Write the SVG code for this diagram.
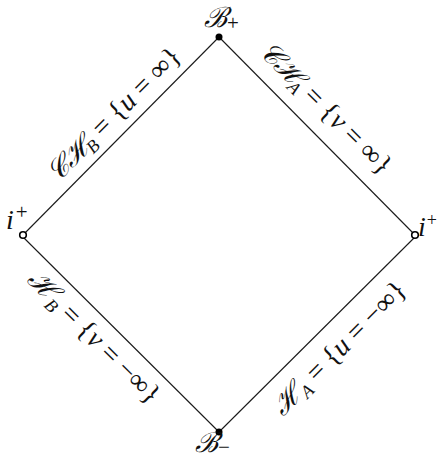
<svg xmlns="http://www.w3.org/2000/svg" width="438" height="461" viewBox="0 0 438 461">
<style>
.e{stroke:#1a1a1a;stroke-width:1.1;fill:none}
.t{font-family:"Liberation Serif","DejaVu Serif",serif;font-style:italic;font-size:28px;fill:#111}
.m{font-style:normal}
.s{font-size:18px}
.p{font-size:21px}
.open{fill:#fff;stroke:#000;stroke-width:1.6}
</style>
<rect width="438" height="461" fill="#fff"/>
<g id="connectors">
<line class="e" x1="219" y1="37" x2="22" y2="236"/>
<line class="e" x1="219" y1="37" x2="416" y2="236"/>
<line class="e" x1="22" y1="236" x2="219" y2="432"/>
<line class="e" x1="416" y1="236" x2="219" y2="432"/>
</g>
<g id="labels">
<text class="t" text-anchor="middle" transform="translate(114,114) rotate(-45)" y="9">𝒞ℋ<tspan class="s" dy="5">B</tspan><tspan class="m" dy="-5"> = {</tspan>u<tspan class="m"> = ∞}</tspan></text>
<text class="t" text-anchor="middle" transform="translate(326,108) rotate(45)" y="9">𝒞ℋ<tspan class="s" dy="5">A</tspan><tspan class="m" dy="-5"> = {</tspan>v<tspan class="m"> = ∞}</tspan></text>
<text class="t" text-anchor="middle" transform="translate(94,337) rotate(45)" y="9">ℋ<tspan class="s" dy="5">B</tspan><tspan class="m" dy="-5"> = {</tspan>v<tspan class="m"> = −∞}</tspan></text>
<text class="t" text-anchor="middle" transform="translate(339,348) rotate(-45)" y="9">ℋ<tspan class="s" dy="5">A</tspan><tspan class="m" dy="-5"> = {</tspan>u<tspan class="m"> = −∞}</tspan></text>
</g>
<g id="node-top">
<circle cx="219" cy="37" r="3.5" fill="#000"/>
<text class="t" x="204" y="27">ℬ<tspan class="m p" dy="3">+</tspan></text>
</g>
<g id="node-bottom">
<circle cx="219" cy="432" r="3.5" fill="#000"/>
<text class="t" x="195" y="452">ℬ<tspan class="m p" dy="2">−</tspan></text>
</g>
<g id="node-left">
<circle class="open" cx="23" cy="235" r="3.3"/>
<text class="t" x="6" y="229">i<tspan class="m p" dx="2" dy="-10">+</tspan></text>
</g>
<g id="node-right">
<circle class="open" cx="415" cy="235" r="3.3"/>
<text class="t" x="418" y="236">i<tspan class="m s" dx="1" dy="-10">+</tspan></text>
</g>
</svg>
